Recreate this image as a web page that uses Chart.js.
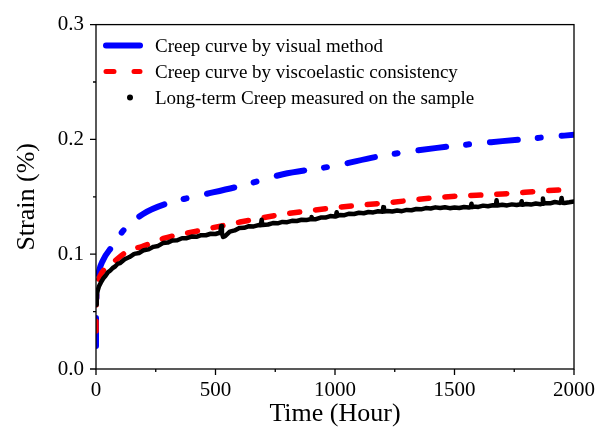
<!DOCTYPE html>
<html>
<head>
<meta charset="utf-8">
<script src="https://cdn.jsdelivr.net/npm/chart.js@4/dist/chart.umd.min.js"></script>
<style>
  html, body { margin: 0; padding: 0; background: #fff; }
  canvas { display: block; }
</style>
</head>
<body>
<canvas id="c" width="606" height="427"></canvas>
<script>
// ---- data ----
const seriesLabels = [
  'Creep curve by visual method',
  'Creep curve by viscoelastic consistency',
  'Long-term Creep measured on the sample'
];
const visualHours = [0, 0, 3, 11, 30, 67, 116, 197, 310, 400, 616, 782, 993, 1188, 1427, 1700, 1886, 2000];
const visualStrain = [0.020, 0.049, 0.070, 0.0836, 0.095, 0.1066, 0.121, 0.135, 0.145, 0.1496, 0.160, 0.1696, 0.1768, 0.1854, 0.1926, 0.1985, 0.202, 0.204];

const viscoHours = [0, 0, 3, 10, 25, 67, 142, 192, 282, 421, 603, 798, 1021, 1243, 1439, 1700, 1886, 2000];
const viscoStrain = [0.033, 0.057, 0.068, 0.077, 0.084, 0.092, 0.1038, 0.1066, 0.1137, 0.120, 0.128, 0.1352, 0.141, 0.1453, 0.1496, 0.1525, 0.1553, 0.1567];

const measuredHours = [
  0, 2, 4, 8, 12, 20, 30, 40, 50, 60, 70, 80, 90, 100, 120, 140, 160, 180, 200, 220,
  240, 260, 280, 300, 320, 340, 360, 380, 400, 420, 440, 460, 480, 500, 520, 524, 527, 532, 540, 560,
  580, 600, 620, 640, 660, 680, 690, 693, 696, 720, 740, 760, 780, 800, 820, 840, 860, 880, 900, 902,
  905, 920, 940, 960, 980, 1000, 1004, 1007, 1010, 1020, 1040, 1060, 1080, 1100, 1120, 1140, 1160, 1180, 1200, 1202,
  1205, 1220, 1240, 1260, 1280, 1300, 1320, 1340, 1360, 1380, 1400, 1420, 1440, 1460, 1480, 1500, 1520, 1540, 1560, 1568,
  1571, 1574, 1580, 1600, 1620, 1640, 1660, 1673, 1676, 1679, 1700, 1720, 1740, 1760, 1778, 1781, 1784, 1800, 1820, 1840,
  1860, 1867, 1870, 1873, 1880, 1900, 1920, 1940, 1945, 1948, 1951, 1960, 1980, 2000
];
const measuredStrain = [
  0.0560, 0.0620, 0.0645, 0.0690, 0.0718, 0.0752, 0.0788, 0.0812, 0.0842, 0.0858, 0.0880, 0.0893, 0.0915, 0.0922, 0.0956, 0.0975, 0.1003, 0.1010, 0.1035, 0.1042,
  0.1064, 0.1072, 0.1097, 0.1101, 0.1119, 0.1121, 0.1139, 0.1140, 0.1154, 0.1151, 0.1166, 0.1165, 0.1178, 0.1176, 0.1189, 0.1245, 0.1180, 0.1150, 0.1157, 0.1197,
  0.1207, 0.1229, 0.1230, 0.1244, 0.1242, 0.1254, 0.1252, 0.1300, 0.1254, 0.1259, 0.1271, 0.1269, 0.1281, 0.1279, 0.1291, 0.1289, 0.1300, 0.1297, 0.1307, 0.1325,
  0.1305, 0.1305, 0.1319, 0.1319, 0.1332, 0.1329, 0.1333, 0.1365, 0.1335, 0.1341, 0.1340, 0.1353, 0.1350, 0.1361, 0.1357, 0.1368, 0.1364, 0.1374, 0.1370, 0.1410,
  0.1372, 0.1377, 0.1372, 0.1380, 0.1375, 0.1386, 0.1383, 0.1394, 0.1391, 0.1402, 0.1398, 0.1408, 0.1402, 0.1409, 0.1401, 0.1407, 0.1402, 0.1411, 0.1407, 0.1411,
  0.1440, 0.1410, 0.1415, 0.1412, 0.1423, 0.1418, 0.1427, 0.1424, 0.1470, 0.1424, 0.1431, 0.1425, 0.1434, 0.1428, 0.1435, 0.1462, 0.1430, 0.1437, 0.1432, 0.1441,
  0.1435, 0.1441, 0.1485, 0.1440, 0.1445, 0.1443, 0.1455, 0.1447, 0.1452, 0.1490, 0.1449, 0.1446, 0.1452, 0.1459
];

const xTicks = [0, 500, 1000, 1500, 2000];
const yTicks = [0.0, 0.1, 0.2, 0.3];
const xMinorTicks = [250, 750, 1250, 1750];
const yMinorTicks = [0.05, 0.15, 0.25];

const FONT = "'Liberation Serif', 'Times New Roman', serif";

function pts(xs, ys) { return xs.map((x, i) => ({ x: x, y: ys[i] })); }

const legendStyles = [
  { color: '#0000ff', width: 6, dash: [], type: 'line' },
  { color: '#ff0000', width: 5, dash: [8, 20], type: 'line' },
  { color: '#000000', type: 'dot' }
];

const framePlugin = {
  id: 'frame',
  afterDraw(chart) {
    const { ctx, chartArea: a, scales: { x, y } } = chart;
    ctx.save();
    ctx.strokeStyle = '#000';
    ctx.lineWidth = 1.3;
    ctx.setLineDash([]);
    ctx.strokeRect(a.left, a.top, a.right - a.left, a.bottom - a.top);
    ctx.beginPath();
    xTicks.forEach(v => { const px = x.getPixelForValue(v); ctx.moveTo(px, a.bottom); ctx.lineTo(px, a.bottom + 6); });
    xMinorTicks.forEach(v => { const px = x.getPixelForValue(v); ctx.moveTo(px, a.bottom); ctx.lineTo(px, a.bottom + 3); });
    yTicks.forEach(v => { const py = y.getPixelForValue(v); ctx.moveTo(a.left, py); ctx.lineTo(a.left - 6, py); });
    yMinorTicks.forEach(v => { const py = y.getPixelForValue(v); ctx.moveTo(a.left, py); ctx.lineTo(a.left - 3, py); });
    ctx.stroke();

    // legend
    const lx0 = a.left + 8, lx1 = a.left + 44, tx = a.left + 59;
    const rowsY = [a.top + 21, a.top + 47, a.top + 73];
    ctx.font = '19px ' + FONT;
    ctx.fillStyle = '#000';
    ctx.textBaseline = 'alphabetic';
    ctx.textAlign = 'left';
    chart.data.datasets.forEach((ds, i) => {
      const s = legendStyles[i];
      const cy = rowsY[i];
      if (s.type === 'line') {
        ctx.beginPath();
        ctx.strokeStyle = s.color;
        ctx.lineWidth = s.width;
        ctx.lineCap = 'round';
        ctx.setLineDash(s.dash);
        ctx.moveTo(lx0 + 2, cy);
        ctx.lineTo(lx1, cy);
        ctx.stroke();
        ctx.setLineDash([]);
      } else {
        ctx.beginPath();
        ctx.fillStyle = s.color;
        ctx.arc(a.left + 34, cy, 3, 0, Math.PI * 2);
        ctx.fill();
      }
      ctx.fillStyle = '#000';
      ctx.fillText(ds.label, tx, cy + 6.5);
    });
    ctx.restore();
  }
};

new Chart(document.getElementById('c'), {
  type: 'line',
  data: {
    datasets: [
      {
        label: seriesLabels[0],
        data: pts(visualHours, visualStrain),
        borderColor: '#0000ff',
        borderWidth: 6,
        borderDash: [28, 20, 3, 21],
        borderCapStyle: 'round',
        borderJoinStyle: 'round',
        pointRadius: 0,
        cubicInterpolationMode: 'monotone',
        fill: false,
        order: 2
      },
      {
        label: seriesLabels[1],
        data: pts(viscoHours, viscoStrain),
        borderColor: '#ff0000',
        borderWidth: 5.5,
        borderDash: [10, 16],
        borderCapStyle: 'round',
        borderJoinStyle: 'round',
        pointRadius: 0,
        cubicInterpolationMode: 'monotone',
        fill: false,
        order: 1
      },
      {
        label: seriesLabels[2],
        data: pts(measuredHours, measuredStrain),
        borderColor: '#000000',
        borderWidth: 4.5,
        borderJoinStyle: 'round',
        borderCapStyle: 'round',
        pointRadius: 0,
        tension: 0,
        fill: false,
        order: 0
      }
    ]
  },
  options: {
    responsive: false,
    animation: false,
    layout: { padding: { top: 20, right: 32, left: 0, bottom: 0 } },
    plugins: { legend: { display: false }, tooltip: { enabled: false } },
    scales: {
      x: {
        type: 'linear',
        min: 0, max: 2000,
        afterBuildTicks: s => { s.ticks = xTicks.map(v => ({ value: v })); },
        afterFit: s => { s.height = 58; },
        grid: { display: false, drawTicks: false },
        border: { display: false },
        ticks: {
          color: '#000',
          font: { family: FONT, size: 21 },
          padding: 9,
          maxRotation: 0,
          autoSkip: false,
          callback: v => String(v)
        },
        title: {
          display: true,
          text: 'Time (Hour)',
          color: '#000',
          font: { family: FONT, size: 26, lineHeight: 1 },
          padding: { top: 0, bottom: 0 }
        }
      },
      y: {
        type: 'linear',
        min: 0, max: 0.3,
        afterBuildTicks: s => { s.ticks = yTicks.map(v => ({ value: v })); },
        afterFit: s => { s.width = 96; },
        grid: { display: false, drawTicks: false },
        border: { display: false },
        ticks: {
          color: '#000',
          font: { family: FONT, size: 21 },
          padding: 12,
          autoSkip: false,
          callback: v => v.toFixed(1)
        },
        title: {
          display: true,
          text: 'Strain (%)',
          color: '#000',
          font: { family: FONT, size: 26, lineHeight: 1.2 },
          padding: { top: 12, bottom: 0 }
        }
      }
    }
  },
  plugins: [framePlugin]
});
</script>
</body>
</html>
